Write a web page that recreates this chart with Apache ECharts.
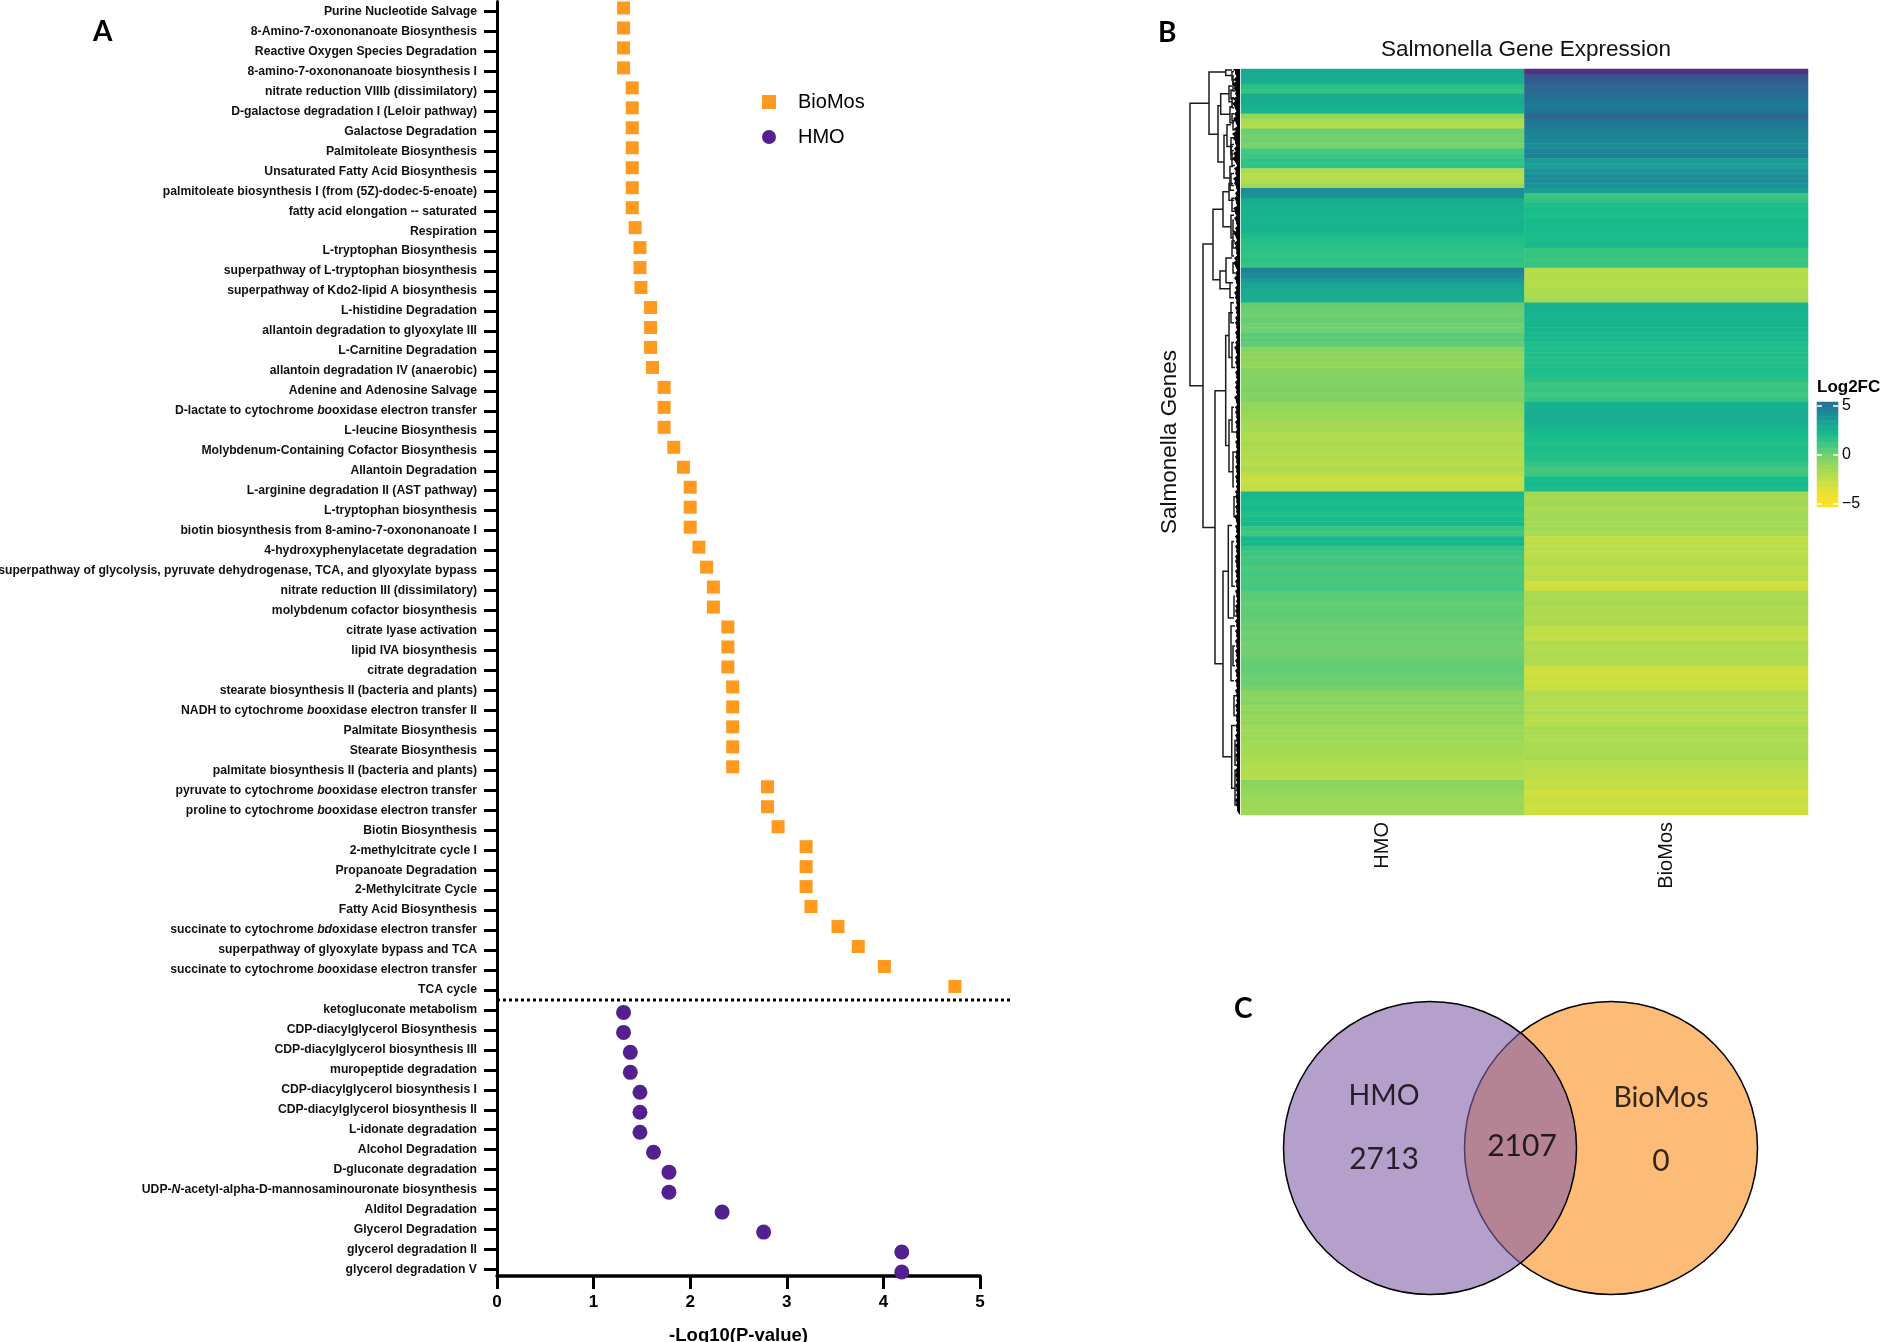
<!DOCTYPE html>
<html><head><meta charset="utf-8">
<style>html,body{margin:0;padding:0;background:#fff}#c{width:1883px;height:1342px}</style>
<script src="https://cdn.jsdelivr.net/npm/echarts@6/dist/echarts.min.js"></script>
</head><body><div id="c"></div>
<script>
const pathways = ["Purine Nucleotide Salvage","8-Amino-7-oxononanoate Biosynthesis","Reactive Oxygen Species Degradation","8-amino-7-oxononanoate biosynthesis I","nitrate reduction VIIIb (dissimilatory)","D-galactose degradation I (Leloir pathway)","Galactose Degradation","Palmitoleate Biosynthesis","Unsaturated Fatty Acid Biosynthesis","palmitoleate biosynthesis I (from (5Z)-dodec-5-enoate)","fatty acid elongation -- saturated","Respiration","L-tryptophan Biosynthesis","superpathway of L-tryptophan biosynthesis","superpathway of Kdo2-lipid A biosynthesis","L-histidine Degradation","allantoin degradation to glyoxylate III","L-Carnitine Degradation","allantoin degradation IV (anaerobic)","Adenine and Adenosine Salvage","D-lactate to cytochrome booxidase electron transfer","L-leucine Biosynthesis","Molybdenum-Containing Cofactor Biosynthesis","Allantoin Degradation","L-arginine degradation II (AST pathway)","L-tryptophan biosynthesis","biotin biosynthesis from 8-amino-7-oxononanoate I","4-hydroxyphenylacetate degradation","superpathway of glycolysis, pyruvate dehydrogenase, TCA, and glyoxylate bypass","nitrate reduction III (dissimilatory)","molybdenum cofactor biosynthesis","citrate lyase activation","lipid IVA biosynthesis","citrate degradation","stearate biosynthesis II (bacteria and plants)","NADH to cytochrome booxidase electron transfer II","Palmitate Biosynthesis","Stearate Biosynthesis","palmitate biosynthesis II (bacteria and plants)","pyruvate to cytochrome booxidase electron transfer","proline to cytochrome booxidase electron transfer","Biotin Biosynthesis","2-methylcitrate cycle I","Propanoate Degradation","2-Methylcitrate Cycle","Fatty Acid Biosynthesis","succinate to cytochrome bdoxidase electron transfer","superpathway of glyoxylate bypass and TCA","succinate to cytochrome booxidase electron transfer","TCA cycle","ketogluconate metabolism","CDP-diacylglycerol Biosynthesis","CDP-diacylglycerol biosynthesis III","muropeptide degradation","CDP-diacylglycerol biosynthesis I","CDP-diacylglycerol biosynthesis II","L-idonate degradation","Alcohol Degradation","D-gluconate degradation","UDP-N-acetyl-alpha-D-mannosaminouronate biosynthesis","Alditol Degradation","Glycerol Degradation","glycerol degradation II","glycerol degradation V"];
const biomosP = [1.31,1.31,1.31,1.31,1.40,1.40,1.40,1.40,1.40,1.40,1.40,1.43,1.48,1.48,1.49,1.59,1.59,1.59,1.61,1.73,1.73,1.73,1.83,1.93,2.0,2.0,2.0,2.09,2.17,2.24,2.24,2.39,2.39,2.39,2.44,2.44,2.44,2.44,2.44,2.80,2.80,2.91,3.20,3.20,3.20,3.25,3.53,3.74,4.01,4.74];
const hmoP = [1.31,1.31,1.38,1.38,1.48,1.48,1.48,1.62,1.78,1.78,2.33,2.76,4.19,4.19];
const heatGroups = ["HMO","BioMos"];
const heatHMO = [2.9,2.8,2.7,1.6,1.2,2.7,2.9,2.6,2.4,-1.0,-1.8,-2.2,0.1,-0.1,0.0,-0.3,0.9,1.1,1.4,1.5,-2.0,-2.3,-2.1,-1.5,4.1,3.9,2.9,2.6,2.5,2.4,2.3,2.5,2.4,2.0,1.7,1.6,1.5,1.3,1.5,1.2,4.5,4.2,3.6,3.2,2.9,2.8,2.6,0.2,0.1,0.0,0.2,-0.1,0.0,0.5,0.4,0.3,-0.7,-0.9,-0.8,-1.0,-0.7,-0.6,-0.5,-0.5,-0.3,-0.6,-0.4,-1.0,-1.0,-1.3,-1.4,-1.7,-1.6,-2.0,-2.1,-1.8,-2.0,-2.2,-2.1,-2.3,-2.0,-2.4,-2.9,-2.7,-2.6,2.2,2.0,1.9,2.1,1.8,2.0,2.3,1.2,1.0,2.3,2.2,1.3,1.1,0.9,1.0,0.7,0.9,0.8,0.8,0.9,0.5,0.4,0.2,0.3,0.4,0.3,0.1,0.2,0.0,0.1,-0.1,0.0,-0.2,0.1,0.2,0.3,0.2,0.0,0.1,-0.2,-0.7,-0.8,-0.6,-1.0,-0.9,-1.1,-1.0,-1.4,-1.5,-1.3,-1.6,-1.5,-1.7,-1.9,-2.0,-2.2,-2.1,-2.3,-0.8,-0.9,-1.0,-1.3,-1.4,-1.3,-1.5];
const heatBioMos = [8.5,6.6,6.2,5.7,5.6,5.3,5.0,4.7,5.0,5.7,5.0,4.9,4.5,4.4,4.3,4.1,4.4,4.5,3.5,3.3,3.8,4.0,4.1,3.9,3.4,1.1,1.4,1.9,2.0,1.8,2.0,2.1,2.0,1.9,1.9,2.1,1.2,1.3,1.1,1.2,-2.3,-2.2,-2.1,-2.3,-2.0,-2.0,-1.7,2.6,2.5,2.4,2.3,2.4,2.3,2.2,2.1,1.9,1.9,1.8,1.7,1.8,1.9,1.8,1.6,1.1,1.2,1.0,1.3,2.5,2.6,2.7,2.7,2.6,2.3,2.0,1.9,1.8,1.9,1.8,1.7,1.3,0.9,1.0,2.0,2.1,1.9,-1.5,-1.7,-1.4,-1.9,-1.6,-1.5,-1.7,-1.5,-1.8,-2.7,-2.5,-2.4,-2.6,-2.3,-2.2,-2.5,-2.4,-2.3,-3.2,-2.9,-1.8,-1.9,-1.7,-2.0,-1.9,-2.1,-1.8,-2.6,-2.5,-2.7,-2.0,-2.2,-1.9,-2.1,-2.0,-3.0,-3.2,-2.9,-3.0,-2.8,-2.0,-2.2,-2.1,-2.2,-2.0,-2.3,-2.4,-1.8,-1.9,-2.0,-1.9,-1.8,-1.9,-1.6,-2.2,-2.3,-2.4,-2.5,-2.7,-2.6,-3.1,-2.9,-2.8,-3.1,-3.0];
const dendroBrackets = [
 [50,6.9,63.7,31,37],[31,0.6,13.1,14.3,22],[14.3,0.2,1.3,8,8],[22,7.4,18.7,19.3,16],[19.3,5,9.1,11,10],[16,13.3,21.9,13,10],
 [37,35.2,92.2,27,25],[27,28.2,42.4,17,20],[17,24.7,31.7,11,9],[20,40.6,44.2,14,10],[25,64.7,119.6,14.3,17],[14.3,53.6,75.7,11,11],
 [11,49,58,7,8],[11,70.6,81,8,7],[17,101,138.3,11.7,8.3],[11.7,91.8,110.4,8,6],[8.3,132,144.6,5,5],[9,112,123,5,6],
 [11,3.4,6.6,8,7],[10,7.6,10.8,7,6],[13,11.2,15.6,9,7],[10,19.6,24.4,7,6],[9,13.8,17.2,6,7],[7,1.4,3,6,6],[8,5.8,7.8,6,6],
 [11,23,26.4,7,6],[9,29.4,34,6,7],[14,38,43,8,9],[10,43,46,7,6],[7,33,36,6,5],[9,47,51,6,6],[8,55,60,6,5],[8,68,73,6,5],[7,77,84,5,6],
 [6,86,90,5,4],[8,95,104,6,5],[6,106,110,5,4],[7,116,120,5,5],[6,126,130,4,5],[5,135,140,4,4],[5,141,148,4,3],
 [8,0.5,2.2,6,5],[7,2.6,4.4,6,5],[9,4.2,6,7,6],[8,9,10.4,6,5],[7,10.6,12.2,6,5],[9,15.2,18.2,6,7],[8,16.4,19.4,6,5],[9,21,23.4,6,6],[8,26,28.6,6,5],[7,30.4,32.6,6,5],[8,34.6,37.6,5,6],[7,39,41,5,5]
];
const dendroFringe = [7,5,6,8,6,5,7,8,5,6,7,4,6,8,7,5,6,7,8,4,6,5,7,6,4,5,6,4,7,5,6,4,5,7,4,6,5,4,6,7,4,5,6,4,5,6,5,4,5,4,5,5,4,5,4,5,6,4,5,5,4,5,4,5,5,4,6,4,5,5,4,5,4,5,4,5,4,5,5,4,5,4,5,4,4,5,5,4,5,4,6,4,5,4,5,4,5,4,5,5,4,5,4,5,4,5,4,4,5,5,4,5,4,5,4,5,4,5,4,5,4,5,4,5,4,5,4,4,5,4,5,4,5,4,5,4,5,4,5,4,4,5,5,4,5,4,4,5,4,3];
const legendSteps = ["5.25","5","4.75","4.5","4.25","4","3.75","3.5","3.25","3","2.75","2.5","2.25","2","1.75","1.5","1.25","1","0.75","0.5","0.25","0","-0.25","-0.5","-0.75","-1","-1.25","-1.5","-1.75","-2","-2.25","-2.5","-2.75","-3","-3.25","-3.5","-3.75","-4","-4.25","-4.5","-4.75","-5","-5.25"];
const legendTicks = ["5","0","-5"];
const vennNames = ["HMO","BioMos"];
const vennOnly = [2713,0];
const vennShared = [2107];

const sans = '"Liberation Sans", Arial, sans-serif';
const calibri = 'Lato, sans-serif';
const richLabel = s => s.replace(/cytochrome (bo|bd)oxidase/, 'cytochrome {i|$1}oxidase').replace('UDP-N-acetyl','UDP-{i|N}-acetyl');
const toPts = (vals, start) => vals.map((v,i)=>[v, pathways[start+i]]);
const heatData = [];
heatHMO.forEach((v,i)=>heatData.push([0,i,v]));
heatBioMos.forEach((v,i)=>heatData.push([1,i,v]));
const rowIds = heatHMO.map((_,i)=>String(i));

const bracketSeries = {
 type:'custom', xAxisIndex:2, yAxisIndex:3, silent:true, clip:false, z:3,
 data:dendroBrackets, encode:{x:0,y:1},
 renderItem:(p,api)=>{
  const h=api.value(0),t=api.value(1),b=api.value(2),ht=api.value(3),hb=api.value(4);
  return {type:'polyline',shape:{points:[api.coord([ht,t]),api.coord([h,t]),api.coord([h,b]),api.coord([hb,b])]},style:{fill:'none',stroke:'#1c1c1c',lineWidth:1.5}};
 }
};
const fringeSeries = {
 type:'custom', xAxisIndex:2, yAxisIndex:3, silent:true, clip:false, z:4,
 data:[[0,0]], encode:{x:0,y:1},
 renderItem:(p,api)=>{
  const pts=[api.coord([0,0])];
  dendroFringe.forEach((h,i)=>{pts.push(api.coord([h,i]));pts.push(api.coord([h*0.7,i+0.5]));});
  pts.push(api.coord([0,150]));
  return {type:'polygon',shape:{points:pts},style:{fill:'#000'}};
 }
};

const vennLayout = {x:[210,391], y:170, size:293};
const vennFont = {name:28.5, count:30};
const vennTextPts = [
 {value:[164,118],t:vennNames[0],label:{fontSize:vennFont.name}},{value:[164,181],t:String(vennOnly[0]),label:{fontSize:vennFont.count}},
 {value:[302,168],t:String(vennShared[0]),label:{fontSize:vennFont.count}},
 {value:[441,120],t:vennNames[1],label:{fontSize:vennFont.name}},{value:[441,183],t:String(vennOnly[1]),label:{fontSize:vennFont.count}}
];
const noBounds = {outerBoundsMode:'none'};

const option = {
 animation:false, backgroundColor:'#fff',
 title:{text:'Salmonella Gene Expression',left:1521,top:33,textAlign:'center',textStyle:{fontFamily:sans,fontWeight:'normal',fontSize:22.5,color:'#111'}},
 legend:{data:[{name:'BioMos',icon:'rect'},{name:'HMO',icon:'circle'}],orient:'vertical',left:757,top:87,itemWidth:14,itemHeight:14,itemGap:15,selectedMode:false,textStyle:{fontFamily:sans,fontSize:20,color:'#000',padding:[0,0,0,17]}},
 grid:[
  {left:497,top:1.5,width:483,height:1278,...noBounds},
  {left:1241,top:69,width:567,height:746,...noBounds},
  {left:1188,top:69,width:52,height:746,...noBounds},
  {left:1817,top:402,width:21,height:105,...noBounds},
  {left:1220,top:978,width:600,height:340,...noBounds},
  {left:497,top:1.5,width:516,height:1278,...noBounds}
 ],
 xAxis:[
  {type:'value',gridIndex:0,min:0,max:5,interval:1,offset:-3.5,name:'-Log10(P-value)',nameLocation:'middle',nameGap:50,nameTextStyle:{fontFamily:sans,fontWeight:'bold',fontSize:18.5,color:'#000'},
   axisLine:{show:true,onZero:false,lineStyle:{color:'#000',width:3.5}},axisTick:{show:true,length:13,lineStyle:{color:'#000',width:3}},axisLabel:{margin:18,fontFamily:sans,fontWeight:'bold',fontSize:17,color:'#000'},splitLine:{show:false}},
  {type:'category',gridIndex:1,data:heatGroups,axisLine:{show:false},axisTick:{show:false},splitLine:{show:false},axisLabel:{rotate:90,margin:7,fontFamily:sans,fontSize:20,color:'#111'}},
  {type:'value',gridIndex:2,min:0,max:52,inverse:true,show:false},
  {type:'category',gridIndex:3,data:['x'],show:false},
  {type:'value',gridIndex:4,min:0,max:600,show:false},
  {type:'value',gridIndex:5,min:0,max:5.34,show:false}
 ],
 yAxis:[
  {type:'category',gridIndex:0,data:pathways,inverse:true,axisLine:{show:true,onZero:false,lineStyle:{color:'#000',width:3}},axisTick:{show:true,interval:0,alignWithLabel:true,length:13,lineStyle:{color:'#000',width:3}},splitLine:{show:false},
   axisLabel:{interval:0,margin:20,fontFamily:sans,fontWeight:'bold',fontSize:12.2,color:'#111',formatter:richLabel,rich:{i:{fontFamily:sans,fontWeight:'bold',fontStyle:'italic',fontSize:12.2,color:'#111'}}}},
  {type:'value',gridIndex:5,min:0,max:64,inverse:true,show:false},
  {type:'category',gridIndex:1,data:rowIds,inverse:true,show:false},
  {type:'value',gridIndex:2,min:0,max:150,inverse:true,show:false},
  {type:'category',gridIndex:3,data:legendSteps,inverse:true,position:'left',axisLine:{show:false},splitLine:{show:false},axisLabel:{show:false},
   axisTick:{show:true,inside:true,alignWithLabel:true,length:5,interval:(i,v)=>legendTicks.includes(v),lineStyle:{color:'#fff',width:1.5}},z:10},
  {type:'category',gridIndex:3,data:legendSteps,inverse:true,position:'right',axisLine:{show:false},splitLine:{show:false},
   axisLabel:{show:true,margin:4,interval:(i,v)=>legendTicks.includes(v),fontFamily:sans,fontSize:16,color:'#000',formatter:v=>v.replace('-','\u2212')},
   axisTick:{show:true,inside:true,alignWithLabel:true,length:5,interval:(i,v)=>legendTicks.includes(v),lineStyle:{color:'#fff',width:1.5}},z:10},
  {type:'value',gridIndex:4,min:0,max:340,inverse:true,show:false}
 ],
 visualMap:{show:false,type:'continuous',min:-6,max:9,seriesIndex:[4,5],inRange:{color:['#FDE725','#FAE028','#EDE032','#CDE040','#AEDC50','#92D65A','#70CF70','#3FC67F','#18BC8B','#19A892','#1B8F98','#1F7593','#315F90','#404A8C','#4C3787','#5A2680']}},
 graphic:[
  {type:'text',left:93,top:18,style:{text:'A',font:'bold 28px '+calibri,fill:'#000'}},
  {type:'text',left:1158,top:19,style:{text:'B',font:'bold 28px '+calibri,fill:'#000'}},
  {type:'text',left:1234,top:995,style:{text:'C',font:'bold 28px '+calibri,fill:'#000'}},
  {type:'text',left:1817,top:379,style:{text:'Log2FC',font:'bold 17px '+sans,fill:'#000'}},
  {type:'text',x:1170,y:442,rotation:Math.PI/2,style:{text:'Salmonella Genes',align:'center',verticalAlign:'middle',font:'22.5px '+sans,fill:'#111'}}
 ],
 series:[
  {name:'BioMos',type:'scatter',xAxisIndex:0,yAxisIndex:0,data:toPts(biomosP,0),symbol:'rect',symbolSize:[13,13],symbolOffset:[0,-3.5],clip:false,itemStyle:{color:'#FF9A1F',opacity:1},z:5},
  {name:'HMO',type:'scatter',xAxisIndex:0,yAxisIndex:0,data:toPts(hmoP,50),symbol:'circle',symbolSize:15,symbolOffset:[0,2.5],clip:false,itemStyle:{color:'#52218F',opacity:1},z:5},
  {name:'divider',type:'line',xAxisIndex:5,yAxisIndex:1,data:[[0,50],[5.34,50]],symbol:'none',clip:false,lineStyle:{color:'#000',width:3,type:[3,3]},silent:true},
  {name:'venn-orange',type:'scatter',xAxisIndex:4,yAxisIndex:6,data:[[vennLayout.x[1],vennLayout.y]],symbolSize:vennLayout.size,itemStyle:{color:'#FCBB77',borderColor:'#000',borderWidth:1.5,opacity:1},silent:true,z:2},
  {name:'Log2FC',type:'heatmap',xAxisIndex:1,yAxisIndex:2,data:heatData,silent:true,z:2},
  {name:'scale',type:'heatmap',xAxisIndex:3,yAxisIndex:4,data:legendSteps.map((v,i)=>[0,i,+v]),silent:true,z:2},
  {name:'venn-purple',type:'scatter',xAxisIndex:4,yAxisIndex:6,data:[[vennLayout.x[0],vennLayout.y]],symbolSize:vennLayout.size,itemStyle:{color:'rgba(132,95,168,0.6)',borderColor:'#000',borderWidth:1.5,opacity:1},silent:true,z:3},
  {name:'venn-text',type:'scatter',xAxisIndex:4,yAxisIndex:6,data:vennTextPts,symbolSize:1,itemStyle:{color:'transparent'},silent:true,z:4,
   label:{show:true,position:'inside',fontFamily:calibri,color:'#000',formatter:p=>p.data.t}},
  bracketSeries,fringeSeries
 ]
};
echarts.init(document.getElementById('c'),null,{renderer:'canvas'}).setOption(option);
</script></body></html>
